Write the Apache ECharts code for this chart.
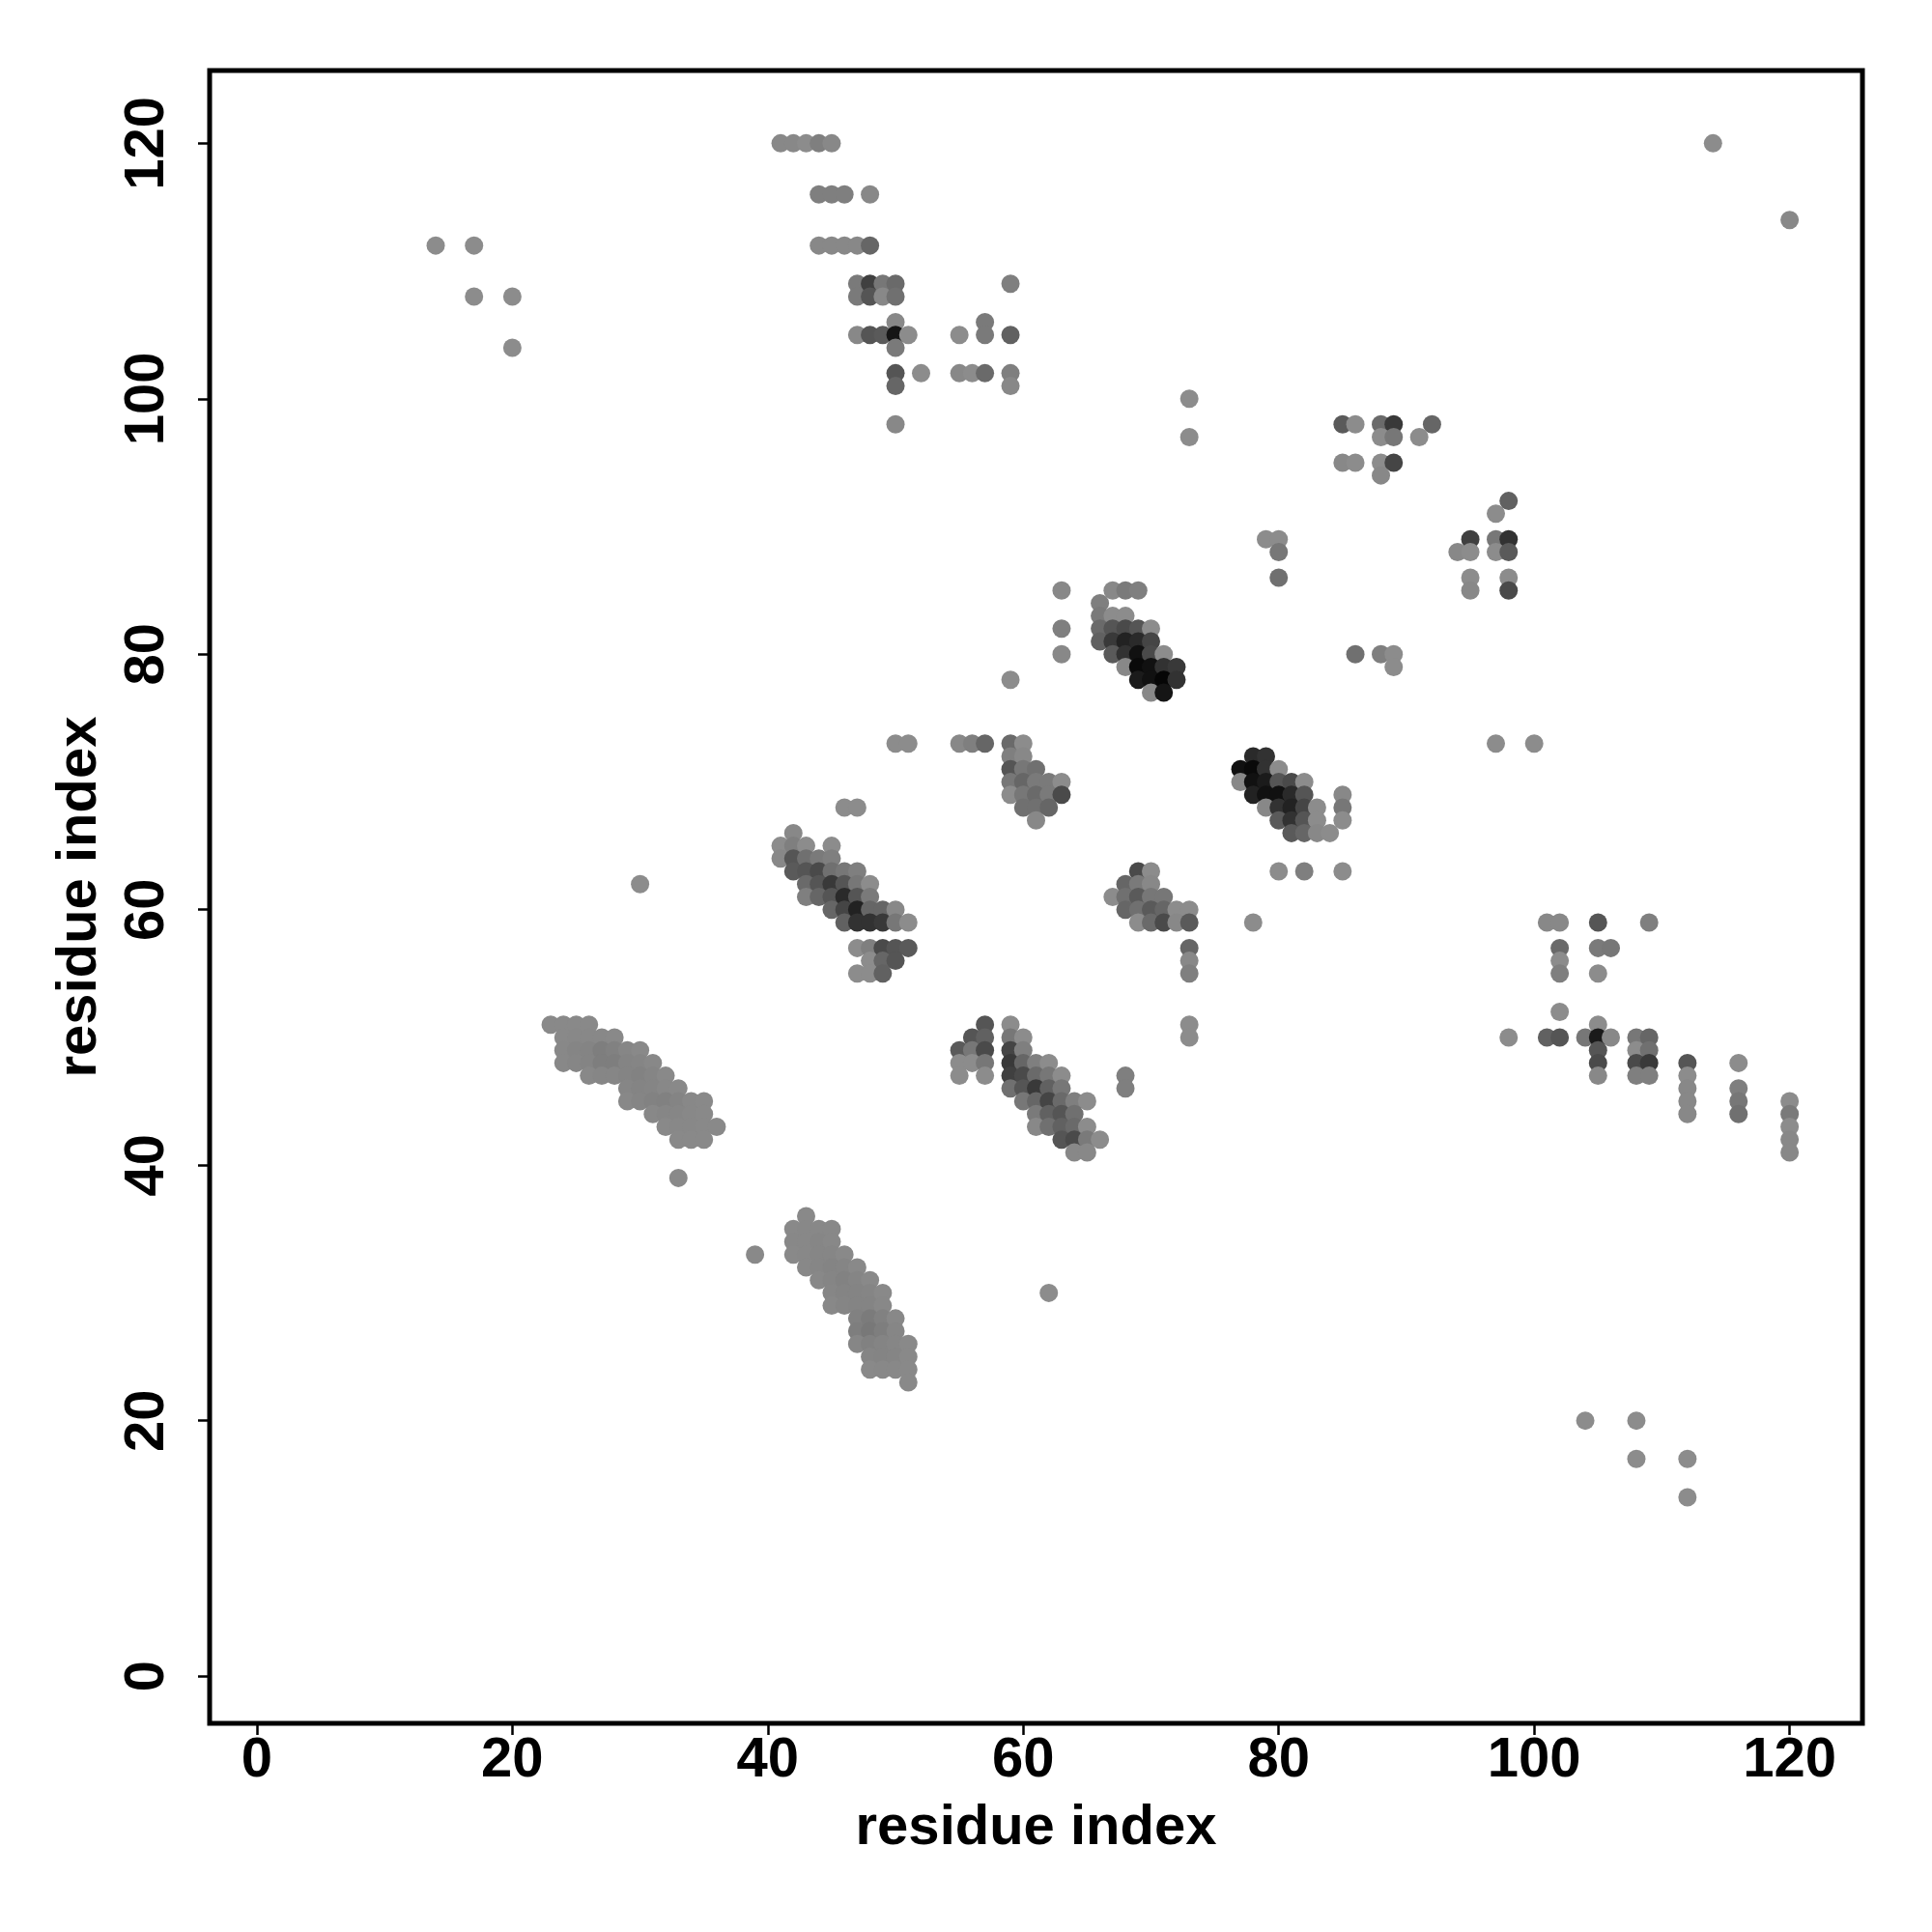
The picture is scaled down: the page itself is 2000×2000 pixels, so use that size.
<!DOCTYPE html>
<html>
<head>
<meta charset="utf-8">
<script src="https://cdn.jsdelivr.net/npm/echarts@6/dist/echarts.min.js"></script>
<style>html,body{margin:0;padding:0;background:#fff}#chart{width:2000px;height:2000px}</style>
</head>
<body>
<div id="chart"></div>
<script>
// Contact map: [residue i, residue j, contact strength 0..1]
const tickValues = [0, 20, 40, 60, 80, 100, 120];
const axisTitle = 'residue index';

const farContacts = [
  [14,112,0],[17,112,0],[17,108,0],[20,108,0],[20,104,0],
  [112,14,0],[112,17,0],[108,17,0],[108,20,0],[104,20,0],
  [30,62,0],[62,30,0],[114,120,0],[120,114,0.03],[97,73,0],[100,73,0],[73,97,0],[73,100,0]
];

const blockTop = [
  [41,120,0.03],[42,120,0.03],[43,120,0],[44,120,0.09],[45,120,0.03],
  [44,116,0.09],[45,116,0.09],[46,116,0.09],[48,116,0.03],
  [44,112,0.03],[45,112,0.03],[46,112,0.03],[47,112,0.03],[48,112,0.27],
  [47,109,0.13],[48,109,0.54],[49,109,0.15],[50,109,0.24],
  [47,108,0.13],[48,108,0.39],[49,108,0.03],[50,108,0.2],
  [59,109,0.09],[50,106,0.03],
  [47,105,0.03],[48,105,0.39],[49,105,0.36],[50,105,0.85],[51,105,0],
  [55,105,0],[57,106,0.13],[57,105,0.13],[59,105,0.31],
  [50,104,0.13],
  [50,102,0.39],[52,102,0],[55,102,0.03],[56,102,0],[57,102,0.24],[59,102,0.09],
  [50,101,0.27],[59,101,0.03],[50,98,0.03]
];

const blockRight = [
  [101,59,0.03],[102,59,0.03],[105,59,0.39],[109,59,0.09],
  [102,57,0.24],[105,57,0.13],[106,57,0.15],
  [102,56,0],[102,55,0.09],[105,55,0],[102,52,0],[105,51,0],
  [98,50,0],[101,50,0.31],[102,50,0.39],[104,50,0.15],[105,50,0.81],[106,50,0.03],[108,50,0.15],[109,50,0.27],
  [105,49,0.39],[108,49,0],[109,49,0.2],
  [105,48,0.47],[108,48,0.47],[109,48,0.59],[112,48,0.39],
  [105,47,0.03],[108,47,0.09],[109,47,0.09],[112,47,0],
  [112,46,0.03],[116,46,0.09],[112,45,0.03],[116,45,0.15],[112,44,0.03],[116,44,0.2],[116,48,0],
  [120,45,0],[120,44,0.13],[120,43,0],[120,42,0.03],[120,41,0.03]
];

const block8085 = [
  [63,85,0.03],[63,82,0.09],[63,80,0.03],
  [67,85,0.03],[68,85,0.13],[69,85,0.09],
  [66,84,0.09],
  [66,83,0.13],[67,83,0],[68,83,0],
  [66,82,0.24],[67,82,0.39],[68,82,0.47],[69,82,0.39],[70,82,0],
  [66,81,0.31],[67,81,0.59],[68,81,0.76],[69,81,0.7],[70,81,0.51],
  [67,80,0.36],[68,80,0.64],[69,80,0.88],[70,80,0.47],[71,80,0],
  [68,79,0.03],[69,79,0.93],[70,79,0.88],[71,79,0.64],[72,79,0.59],
  [69,78,0.81],[70,78,0.88],[71,78,0.96],[72,78,0.64],
  [70,77,0.03],[71,77,0.85]
];

const block90s = [
  [85,98,0.36],[86,98,0],[88,98,0.24],[89,98,0.59],[92,98,0.27],
  [88,97,0],[89,97,0.15],[91,97,0],
  [85,95,0.03],[86,95,0],[88,95,0],[89,95,0.51],[88,94,0.03],
  [98,92,0.31],[97,91,0],
  [79,89,0],[80,89,0],[95,89,0.54],[97,89,0.15],[98,89,0.64],
  [80,88,0.15],[94,88,0.03],[95,88,0],[97,88,0],[98,88,0.36],
  [80,86,0.2],[95,86,0],[98,86,0],
  [95,85,0.03],[98,85,0.47],
  [86,80,0.2],[88,80,0.09],[89,80,0],[89,79,0]
];

const block6070 = [
  [59,78,0],
  [59,73,0.24],[60,73,0],
  [59,72,0.09],[60,72,0.03],
  [59,71,0.39],[60,71,0.15],[61,71,0.2],
  [59,70,0.15],[60,70,0.27],[61,70,0.13],[62,70,0.13],[63,70,0],
  [59,69,0],[60,69,0.15],[61,69,0.24],[62,69,0.13],[63,69,0.47],
  [60,68,0.2],[61,68,0.2],[62,68,0.27],
  [61,67,0.03],
  [69,63,0.47],[70,63,0],
  [68,62,0.27],[69,62,0.13],[70,62,0.03],
  [67,61,0],[68,61,0.2],[69,61,0.36],[70,61,0.15],[71,61,0.15],
  [68,60,0.27],[69,60,0.2],[70,60,0.36],[71,60,0.27],[72,60,0],[73,60,0],
  [69,59,0],[70,59,0.24],[71,59,0.47],[72,59,0.03],[73,59,0.36],
  [73,57,0.27],[73,56,0.03],[73,55,0.09],[73,51,0],[73,50,0],
  [50,73,0],[51,73,0],[55,73,0.03],[56,73,0.09],[57,73,0.27],
  [46,68,0],[47,68,0],[68,47,0.09],[68,46,0.09]
];

const block7080 = [
  [78,72,0.7],[79,72,0.64],
  [77,71,0.88],[78,71,0.93],[79,71,0.64],[80,71,0],
  [77,70,0.03],[78,70,0.88],[79,70,0.81],[80,70,0.39],[81,70,0.47],[82,70,0],
  [78,69,0.76],[79,69,0.88],[80,69,0.88],[81,69,0.7],[82,69,0.39],
  [79,68,0.03],[80,68,0.64],[81,68,0.76],[82,68,0.51],[83,68,0],
  [80,67,0.36],[81,67,0.64],[82,67,0.39],[83,67,0],
  [81,66,0.36],[82,66,0.27],[83,66,0.03],[84,66,0],
  [85,69,0.03],[85,68,0.15],[85,67,0],
  [80,63,0],[82,63,0.09],[85,63,0],[78,59,0]
];

const block4560 = [
  [42,66,0.03],
  [41,65,0],[42,65,0.09],[43,65,0],[45,65,0],
  [41,64,0.03],[42,64,0.39],[43,64,0.2],[44,64,0.13],[45,64,0.09],
  [42,63,0.36],[43,63,0.39],[44,63,0.47],[45,63,0.2],[46,63,0.15],[47,63,0.09],
  [43,62,0.24],[44,62,0.39],[45,62,0.59],[46,62,0.39],[47,62,0.15],[48,62,0],
  [43,61,0.09],[44,61,0.27],[45,61,0.39],[46,61,0.7],[47,61,0.39],[48,61,0.13],
  [45,60,0.27],[46,60,0.51],[47,60,0.76],[48,60,0.27],[49,60,0.27],[50,60,0.03],
  [46,59,0.31],[47,59,0.64],[48,59,0.64],[49,59,0.59],[50,59,0.15],[51,59,0],
  [47,57,0],[48,57,0.09],[49,57,0.47],[50,57,0.39],[51,57,0.36],
  [48,56,0],[49,56,0.27],[50,56,0.39],
  [47,55,0],[48,55,0],[49,55,0.31]
];

const block6045 = [
  [57,51,0.39],[59,51,0],
  [56,50,0.39],[57,50,0.31],[59,50,0.15],[60,50,0],
  [55,49,0.36],[56,49,0.15],[57,49,0.47],[59,49,0.51],[60,49,0.09],
  [55,48,0],[56,48,0],[57,48,0.15],[59,48,0.59],[60,48,0.27],[61,48,0.09],[62,48,0],
  [55,47,0],[57,47,0],[59,47,0.54],[60,47,0.47],[61,47,0.24],[62,47,0.15],[63,47,0],
  [59,46,0.2],[60,46,0.39],[61,46,0.59],[62,46,0.31],[63,46,0.15],
  [60,45,0.15],[61,45,0.27],[62,45,0.51],[63,45,0.24],[64,45,0.09],[65,45,0],
  [61,44,0.13],[62,44,0.31],[63,44,0.39],[64,44,0.2],
  [61,43,0.03],[62,43,0.2],[63,43,0.31],[64,43,0.24],[65,43,0],
  [63,42,0.39],[64,42,0.47],[65,42,0.13],[66,42,0],
  [64,41,0.03],[65,41,0.03]
];

const blockE = [
  [23,51,0.02],[24,51,0.02],[25,51,0.02],[26,51,0.02],
  [24,50,0.02],[25,50,0.03],[26,50,0.03],[27,50,0.03],[28,50,0.02],
  [24,49,0.03],[25,49,0.05],[26,49,0.06],[27,49,0.1],[28,49,0.08],[29,49,0.04],[30,49,0.02],
  [24,48,0.03],[25,48,0.04],[26,48,0.06],[27,48,0.1],[28,48,0.1],[29,48,0.06],[30,48,0.05],[31,48,0.03],
  [26,47,0.03],[27,47,0.04],[28,47,0.04],[29,47,0.06],[30,47,0.07],[31,47,0.05],[32,47,0.02],
  [29,46,0.04],[30,46,0.06],[31,46,0.05],[32,46,0.03],[33,46,0.02],
  [29,45,0.03],[30,45,0.05],[31,45,0.07],[32,45,0.08],[33,45,0.06],[34,45,0.03],[35,45,0.02],
  [31,44,0.03],[32,44,0.04],[33,44,0.04],[34,44,0.03],[35,44,0.02],
  [32,43,0.02],[33,43,0.03],[34,43,0.03],[35,43,0.02],[36,43,0.02],
  [33,42,0.02],[34,42,0.02],[35,42,0.02],
  [33,39,0.02]
];

const blockF = [
  [39,33,0.02],[43,36,0.02],
  [42,35,0.02],[43,35,0.03],[44,35,0.03],[45,35,0.03],
  [42,34,0.03],[43,34,0.03],[44,34,0.04],[45,34,0.03],
  [42,33,0.02],[43,33,0.03],[44,33,0.04],[45,33,0.04],[46,33,0.02],
  [43,32,0.03],[44,32,0.04],[45,32,0.06],[46,32,0.05],[47,32,0.02],
  [44,31,0.03],[45,31,0.05],[46,31,0.07],[47,31,0.05],[48,31,0.02],
  [45,30,0.04],[46,30,0.06],[47,30,0.06],[48,30,0.05],[49,30,0.02],
  [45,29,0.03],[46,29,0.05],[47,29,0.06],[48,29,0.06],[49,29,0.03],
  [47,28,0.08],[48,28,0.12],[49,28,0.08],[50,28,0.03],
  [47,27,0.1],[48,27,0.14],[49,27,0.1],[50,27,0.04],
  [47,26,0.04],[48,26,0.08],[49,26,0.06],[50,26,0.04],[51,26,0.02],
  [48,25,0.05],[49,25,0.06],[50,25,0.05],[51,25,0.02],
  [48,24,0.02],[49,24,0.03],[50,24,0.03],[51,24,0.02],
  [51,23,0.02]
];

const contacts = [].concat(farContacts, blockE, blockF, blockTop, blockRight,
  block4560, block6045, block6070, block8085, block90s, block7080);

const chart = echarts.init(document.getElementById('chart'), null, {renderer: 'canvas'});
const fontFamily = '"Liberation Sans", Arial, Helvetica, sans-serif';
chart.setOption({
  animation: false,
  backgroundColor: '#fff',
  grid: {left: 217, right: 72, top: 73, bottom: 216, show: true, borderColor: '#000', borderWidth: 5, backgroundColor: 'transparent'},
  visualMap: {show: false, type: 'continuous', dimension: 2, min: 0, max: 1, inRange: {color: ['#8c8c8c', '#000000']}},
  xAxis: {
    type: 'value', min: -3.7, max: 125.7,
    name: axisTitle, nameLocation: 'middle', nameGap: 80,
    nameTextStyle: {fontSize: 58, fontWeight: 'bold', color: '#000', fontFamily},
    axisLine: {show: false, onZero: false},
    axisTick: {show: true, inside: false, length: 12, customValues: tickValues, lineStyle: {color: '#000', width: 2.5}},
    axisLabel: {customValues: tickValues, fontSize: 58, fontWeight: 'bold', color: '#000', fontFamily, margin: 10},
    splitLine: {show: false}
  },
  yAxis: {
    type: 'value', min: -3.7, max: 125.7,
    name: axisTitle, nameLocation: 'middle', nameGap: 105, nameRotate: 90,
    nameTextStyle: {fontSize: 58, fontWeight: 'bold', color: '#000', fontFamily},
    axisLine: {show: false, onZero: false},
    axisTick: {show: true, inside: false, length: 12, customValues: tickValues, lineStyle: {color: '#000', width: 2.5}},
    axisLabel: {customValues: tickValues, rotate: 90, fontSize: 58, fontWeight: 'bold', color: '#000', fontFamily, margin: 35},
    splitLine: {show: false}
  },
  series: [{
    type: 'scatter',
    data: contacts,
    symbol: 'circle',
    symbolSize: 19,
    itemStyle: {opacity: 1, borderWidth: 0},
    emphasis: {disabled: true}
  }]
});
</script>
</body>
</html>
